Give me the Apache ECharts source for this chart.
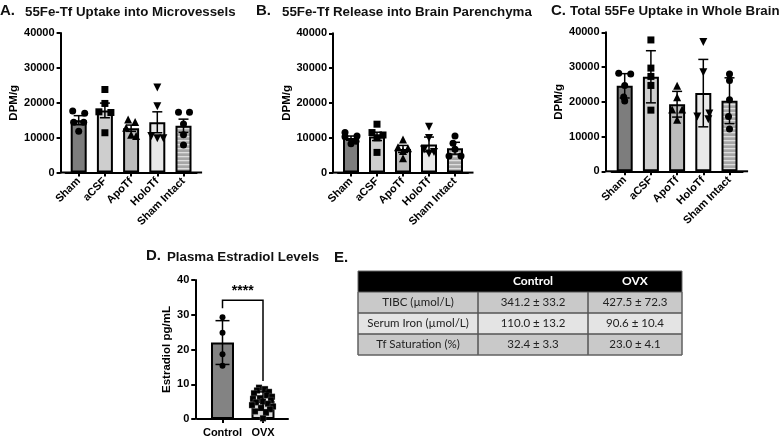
<!DOCTYPE html>
<html><head><meta charset="utf-8">
<script src="https://cdn.jsdelivr.net/npm/echarts@6/dist/echarts.min.js"></script>
<style>html,body{margin:0;padding:0;background:#fff}#c{width:784px;height:436px}</style>
</head><body><div id="c"></div>
<script>
// ---------------- DATA ----------------
const groups = ['Sham', 'aCSF', 'ApoTf', 'HoloTf', 'Sham Intact'];
const dpmMax = 40000, dpmStep = 10000;

const aMeans = [15000, 17800, 12700, 14400, 13400];
const aErr = [1300, 2100, 900, 3000, 1900];
const aPoints = [
  [17600, 17000, 14400, 14400, 11800],
  [23800, 19800, 17400, 17200, 11400],
  [15200, 14500, 12800, 10800, 10500],
  [24400, 19000, 10500, 9800, 9800],
  [17300, 17300, 13900, 10800, 7900]
];
const bMeans = [9900, 10400, 6800, 8100, 7000];
const bErr = [600, 1200, 1000, 2100, 1700];
const bPoints = [
  [11500, 10500, 10300, 9000, 8300],
  [13900, 11500, 10800, 10000, 5800],
  [9500, 7300, 7000, 6200, 4100],
  [13200, 9900, 6600, 5900, 5500],
  [10500, 8400, 6700, 4800, 4800]
];
const cMeans = [24600, 27200, 19300, 22500, 20300];
const cErr = [3500, 7500, 3700, 9700, 6600];
const cPoints = [
  [28200, 28000, 24700, 21400, 20200],
  [37800, 29700, 27300, 24700, 17600],
  [24600, 21300, 17800, 17800, 14800],
  [37200, 28500, 16600, 15800, 15000],
  [28000, 26100, 20600, 15800, 12200]
];

const dGroups = ['Control', 'OVX'];
const dMax = 40, dStep = 10;
const dMeans = [22.0, 5.2];
const dErr = [6.3, 2.6];
const dControl = [29.3, 24.8, 18.6, 15.3];
const dOVX = [9.0, 8.6, 8.2, 7.8, 7.4, 6.8, 6.4, 6.0, 5.8, 5.4, 5.0, 4.8, 4.4, 4.0, 3.6, 3.2, 2.8, 2.2, 1.8, 0.2];
const dSigLabel = '****';
const dBracket = { leftBottom: 31.9, top: 34.2, rightBottom: 10.9 };

const tableHeader = ['', 'Control', 'OVX'];
const tableRowLabels = ['TIBC (\u00b5mol/L)', 'Serum Iron (\u00b5mol/L)', 'Tf Saturation (%)'];
const tableControl = ['341.2 \u00b1 33.2', '110.0 \u00b1 13.2', '32.4 \u00b1 3.3'];
const tableOVX = ['427.5 \u00b1 72.3', '90.6 \u00b1 10.4', '23.0 \u00b1 4.1'];

// ---------------- STYLE ----------------
const FONT = '"Liberation Sans", Arial, sans-serif';
const symbols = ['circle', 'rect', 'triangle', 'triangle', 'circle'];
const symRot = [0, 0, 0, 180, 0];
const aJit = [[-6, 6, -5, 5, 0], [0, 0, -6, 6, 0], [-3, 4, -5, 0, 5], [0, 0, -6, 0, 6], [-5, 6, 0, 0, 0]];
const bJit = [[-6, 6, -6, 5, 0], [0, -5, 6, 0, 0], [0, -5, 5, 0, 0], [0, 0, -5, 5, 0], [0, -2, 0, -6, 6]];
const cJit = [[-6, 6, 0, -1, 0], [0, 0, 0, 0, 0], [0, 0, -5, 5, 0], [0, 0, 6, -6, 5], [0, 0, 0, -1, 0]];
const ovxJit = [-4, 2, -6, 6, -9, 4, 9, -3, -10, 8, 0, -7, 5, -11, 10, -2, 7, -8, 3, 0];

function stripePattern() {
  const cv = document.createElement('canvas');
  cv.width = 4; cv.height = 4;
  const ctx = cv.getContext('2d');
  ctx.fillStyle = '#a6a6a6'; ctx.fillRect(0, 0, 4, 4);
  ctx.fillStyle = '#dedede'; ctx.fillRect(0, 0, 4, 1.3);
  return { image: cv, repeat: 'repeat' };
}
const barColors = ['#7d7d7d', '#cecece', '#bcbcbc', '#e9e9e9', stripePattern()];

const grids = [
  { left: 65.6, top: 33, width: 131, height: 139.5 },
  { left: 338, top: 33.3, width: 130, height: 139.3 },
  { left: 611.6, top: 32.3, width: 131, height: 139 },
  { left: 202.25, top: 280, width: 81, height: 139 }
];
grids.forEach(g => { g.containLabel = false; g.outerBoundsMode = 'none'; });

const axisLine = { show: true, lineStyle: { color: '#000', width: 2 } };
const xAxisLine = { show: true, symbol: ['rect', 'rect'], symbolSize: [2, 11], lineStyle: { color: '#000', width: 2 } };
const axisTick = { show: true, length: 4, lineStyle: { color: '#000', width: 2 } };

function yAxis(gi, max, step, name, nameGap, offset) {
  return {
    type: 'value', gridIndex: gi, min: 0, max: max, interval: step, offset: offset,
    axisLine: axisLine, axisTick: axisTick, splitLine: { show: false },
    axisLabel: { color: '#000', fontFamily: FONT, fontWeight: 'bold', fontSize: 11, margin: 6, formatter: v => String(v) },
    name: name, nameLocation: 'middle', nameGap: nameGap,
    nameTextStyle: { color: '#000', fontFamily: FONT, fontWeight: 'bold', fontSize: 11.5 }
  };
}
function xAxis(gi, cats, rotate) {
  return {
    type: 'category', gridIndex: gi, data: cats,
    axisLine: xAxisLine, axisTick: Object.assign({ alignWithLabel: true }, axisTick),
    axisLabel: { color: '#000', fontFamily: FONT, fontWeight: 'bold', fontSize: 11, rotate: rotate, margin: rotate ? 7 : 8, interval: 0 }
  };
}

function errSeries(gi, means, errs, cap) {
  return {
    type: 'custom', xAxisIndex: gi, yAxisIndex: gi, z: 5,
    encode: { x: 0, y: [1, 2] },
    data: means.map((m, i) => [i, m - errs[i], m + errs[i]]),
    renderItem: function (params, api) {
      const lo = api.coord([api.value(0), api.value(1)]);
      const hi = api.coord([api.value(0), api.value(2)]);
      const x = lo[0];
      const st = { stroke: '#000', lineWidth: 1.5 };
      return {
        type: 'group', children: [
          { type: 'line', shape: { x1: x, y1: lo[1], x2: x, y2: hi[1] }, style: st },
          { type: 'line', shape: { x1: x - cap, y1: hi[1], x2: x + cap, y2: hi[1] }, style: st },
          { type: 'line', shape: { x1: x - cap, y1: lo[1], x2: x + cap, y2: lo[1] }, style: st }
        ]
      };
    }
  };
}

function panelSeries(gi, means, errs, points, jit) {
  const sc = [];
  points.forEach((arr, i) => arr.forEach((v, j) => sc.push({
    value: [i, v], symbol: symbols[i], symbolRotate: symRot[i], symbolOffset: [jit[i][j], 0],
    symbolSize: symbols[i] === 'triangle' ? 8 : 7
  })));
  return [
    {
      type: 'bar', xAxisIndex: gi, yAxisIndex: gi, barWidth: 16, z: 2,
      itemStyle: { borderColor: '#000', borderWidth: 2 },
      data: means.map((v, i) => ({ value: v, itemStyle: { color: barColors[i] } }))
    },
    { type: 'scatter', xAxisIndex: gi, yAxisIndex: gi, z: 3, itemStyle: { color: '#000', opacity: 1 }, data: sc },
    errSeries(gi, means, errs, 5)
  ];
}

const series = [].concat(
  panelSeries(0, aMeans, aErr, aPoints, aJit),
  panelSeries(1, bMeans, bErr, bPoints, bJit),
  panelSeries(2, cMeans, cErr, cPoints, cJit)
);

// Panel D
series.push({
  type: 'bar', xAxisIndex: 3, yAxisIndex: 3, barWidth: 23, z: 2,
  itemStyle: { borderColor: '#000', borderWidth: 2 },
  data: dMeans.map((v, i) => ({ value: v, itemStyle: { color: ['#838383', '#d9d9d9'][i] } }))
});
series.push({
  type: 'scatter', xAxisIndex: 3, yAxisIndex: 3, z: 3, symbolSize: 6,
  itemStyle: { color: '#000', opacity: 1 },
  data: dControl.map(v => ({ value: [0, v], symbol: 'circle' }))
    .concat(dOVX.map((v, j) => ({ value: [1, v], symbol: 'rect', symbolOffset: [ovxJit[j], 0], itemStyle: { color: '#000', opacity: 1, borderColor: '#888', borderWidth: 0.3 } })))
});
series.push(errSeries(3, dMeans, dErr, 7));
series.push({
  type: 'custom', xAxisIndex: 3, yAxisIndex: 3, z: 6,
  data: [[0, 1, dBracket.leftBottom, dBracket.top, dBracket.rightBottom]],
  encode: { x: [0, 1], y: [2, 3, 4] },
  renderItem: function (params, api) {
    const p1 = api.coord([api.value(0), api.value(2)]);
    const p2 = api.coord([api.value(0), api.value(3)]);
    const p3 = api.coord([api.value(1), api.value(3)]);
    const p4 = api.coord([api.value(1), api.value(4)]);
    return {
      type: 'group', children: [
        { type: 'polyline', shape: { points: [p1, p2, p3, p4] }, style: { stroke: '#000', lineWidth: 1.5, fill: null } },
        { type: 'text', x: (p2[0] + p3[0]) / 2, y: p2[1] - 2, style: { text: dSigLabel, font: 'bold 14px ' + FONT, fill: '#000', align: 'center', verticalAlign: 'bottom' } }
      ]
    };
  }
});

// ---------------- TEXT / TABLE ----------------
function txt(x, y, s, font, fill, align) {
  return { type: 'text', x: x, y: y, z: 100, style: { text: s, font: font, fill: fill || '#111', align: align || 'left', verticalAlign: 'middle' } };
}
const TF = 'bold 13.3px ' + FONT, LF = 'bold 15px ' + FONT;
const graphics = [
  txt(0, 11, 'A.', LF), txt(25, 12, '55Fe-Tf Uptake into Microvessels', TF),
  txt(256, 11, 'B.', LF), txt(282, 12.5, '55Fe-Tf Release into Brain Parenchyma', TF),
  txt(551, 10.5, 'C.', LF), txt(570, 11.5, 'Total 55Fe Uptake in Whole Brain', TF),
  txt(146, 256, 'D.', LF), txt(167, 257, 'Plasma Estradiol Levels', TF),
  txt(334, 258, 'E.', LF)
];
// table
const colX = [358, 478, 588, 682];
const rowY = [271, 292, 313, 334, 355];
const rowFill = ['#000', '#c9c9c9', '#e4e4e4', '#c9c9c9'];
const TBF = '"Lato", "Open Sans", sans-serif';
for (let r = 0; r < 4; r++) {
  graphics.push({ type: 'rect', z: 90, shape: { x: colX[0], y: rowY[r], width: colX[3] - colX[0], height: rowY[r + 1] - rowY[r] }, style: { fill: rowFill[r] } });
}
for (let r = 1; r < 4; r++) {
  for (let c = 0; c < 3; c++) {
    graphics.push({ type: 'rect', z: 91, shape: { x: colX[c], y: rowY[r], width: colX[c + 1] - colX[c], height: rowY[r + 1] - rowY[r] }, style: { fill: null, stroke: '#555', lineWidth: 1 } });
  }
}
graphics.push({ type: 'rect', z: 92, shape: { x: colX[0], y: rowY[0], width: colX[3] - colX[0], height: rowY[4] - rowY[0] }, style: { fill: null, stroke: '#666', lineWidth: 1 } });
const cx = i => (colX[i] + colX[i + 1]) / 2, cy = r => (rowY[r] + rowY[r + 1]) / 2;
tableHeader.forEach((h, i) => { if (h) graphics.push(txt(cx(i), cy(0), h, 'bold 12px ' + TBF, '#fff', 'center')); });
tableRowLabels.forEach((s, r) => {
  graphics.push(txt(cx(0), cy(r + 1), s, '11.5px ' + TBF, '#222', 'center'));
  graphics.push(txt(cx(1), cy(r + 1), tableControl[r], '11.5px ' + TBF, '#222', 'center'));
  graphics.push(txt(cx(2), cy(r + 1), tableOVX[r], '11.5px ' + TBF, '#222', 'center'));
});

const chart = echarts.init(document.getElementById('c'), null, { renderer: 'canvas' });
chart.setOption({
  backgroundColor: '#fff',
  animation: false,
  grid: grids,
  xAxis: [xAxis(0, groups, 45), xAxis(1, groups, 45), xAxis(2, groups, 45), xAxis(3, dGroups, 0)],
  yAxis: [
    yAxis(0, dpmMax, dpmStep, 'DPM/g', 37, 5),
    yAxis(1, dpmMax, dpmStep, 'DPM/g', 37, 5),
    yAxis(2, dpmMax, dpmStep, 'DPM/g', 37, 6),
    yAxis(3, dMax, dStep, 'Estradiol pg/mL', 22, 7)
  ],
  series: series,
  graphic: graphics
});
</script></body></html>
